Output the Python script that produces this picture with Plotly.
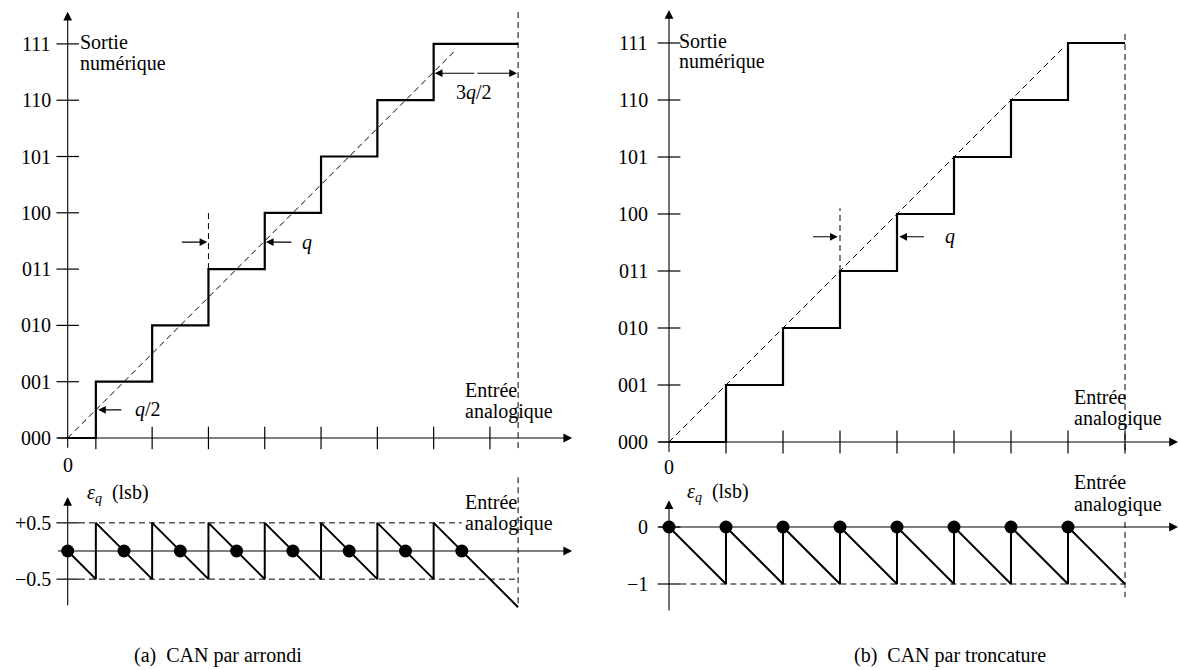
import plotly.graph_objects as go

# ---------------- data (units: q for input, lsb for output/error) ----------------
codes = ["000", "001", "010", "011", "100", "101", "110", "111"]
code_values = [0, 1, 2, 3, 4, 5, 6, 7]
full_scale = 8

# (a) rounding ADC: transitions at half-lsb
round_transitions = [0.5, 1.5, 2.5, 3.5, 4.5, 5.5, 6.5]
round_xticks = [0.5, 1.5, 2.5, 3.5, 4.5, 5.5, 6.5, 7.5]
round_err_ticks = [0.5, -0.5]
round_err_labels = ["+0.5", "\u22120.5"]

# (b) truncation ADC: transitions at integer lsb
trunc_transitions = [1, 2, 3, 4, 5, 6, 7]
trunc_xticks = [1, 2, 3, 4, 5, 6, 7, 8]
trunc_err_ticks = [0, -1]
trunc_err_labels = ["0", "\u22121"]

ideal_end = 6.9  # end of dashed ideal line

captions = ["(a)  CAN par arrondi", "(b)  CAN par troncature"]

FONT = "Liberation Serif, Times New Roman, DejaVu Serif, serif"
FS = 20
BLACK = "black"

W, H = 1180, 670


def staircase(transitions, end):
    xs, ys = [0], [0]
    for i, t in enumerate(transitions):
        xs += [t, t]
        ys += [code_values[i], code_values[i + 1]]
    xs.append(end)
    ys.append(code_values[len(transitions)])
    return xs, ys


def error_curve(transitions, end):
    bounds = [0] + list(transitions) + [end]
    xs, ys = [], []
    for i in range(len(bounds) - 1):
        a, b = bounds[i], bounds[i + 1]
        c = code_values[i]
        xs += [a, b]
        ys += [c - a, c - b]
    return xs, ys


fig = go.Figure()


# pixel layout helpers -> axis ranges (positions only)
def xrange_for(px0, px1, origin, q):
    return [(px0 - origin) / q, (px1 - origin) / q]


def yrange_for(py0, py1, origin, q):
    return [(origin - py1) / q, (origin - py0) / q]


layout_axes = {
    "xaxis": dict(range=xrange_for(0, 590, 67.7, 56.3), domain=[0, 590 / W], anchor="y"),
    "yaxis": dict(range=yrange_for(0, 470, 438, 56.3), domain=[1 - 470 / H, 1], anchor="x"),
    "xaxis2": dict(range=xrange_for(0, 590, 67.7, 56.3), domain=[0, 590 / W], anchor="y2"),
    "yaxis2": dict(range=yrange_for(470, 630, 551, 56.3), domain=[1 - 630 / H, 1 - 470 / H], anchor="x2"),
    "xaxis3": dict(range=xrange_for(590, 1180, 669, 57), domain=[590 / W, 1], anchor="y3"),
    "yaxis3": dict(range=yrange_for(0, 470, 442, 57), domain=[1 - 470 / H, 1], anchor="x3"),
    "xaxis4": dict(range=xrange_for(590, 1180, 669, 57), domain=[590 / W, 1], anchor="y4"),
    "yaxis4": dict(range=yrange_for(470, 630, 527, 57), domain=[1 - 630 / H, 1 - 470 / H], anchor="x4"),
}
for k, v in layout_axes.items():
    v.update(visible=False, fixedrange=True)

shapes = []
annotations = []
DASH = "6px,4px"


def seg(x0, y0, x1, y1, xr, yr, dash=None, width=1.2):
    line = dict(color=BLACK, width=width)
    if dash:
        line["dash"] = dash
    shapes.append(dict(type="line", x0=x0, y0=y0, x1=x1, y1=y1, xref=xr, yref=yr, line=line, layer="above"))


def arrow(x, y, tx, ty, xr, yr, width=1.1, size=1.6):
    annotations.append(dict(x=x, y=y, ax=tx, ay=ty, xref=xr, yref=yr, axref=xr, ayref=yr,
                            text="", showarrow=True, arrowhead=2, arrowsize=size,
                            arrowwidth=width, arrowcolor=BLACK, standoff=0, startstandoff=0))


def label(x, y, text, xr, yr, xanchor="center", yanchor="middle", size=FS):
    annotations.append(dict(x=x, y=y, xref=xr, yref=yr, text=text, showarrow=False,
                            xanchor=xanchor, yanchor=yanchor,
                            font=dict(family=FONT, size=size, color=BLACK)))


def top_panel(xr, yr, transitions, xticks, ylab_x, zero_y, sortie_x, sortie_y, entree_x, entree_y,
              axis_top, axis_right, vline):
    arrow(0, axis_top, 0, -0.2, xr, yr)
    arrow(axis_right, 0, -0.2, 0, xr, yr)
    for v, c in zip(code_values, codes):
        seg(-0.2, v, 0.2, v, xr, yr)
        label(ylab_x, v, c, xr, yr, xanchor="right")
    for t in xticks:
        seg(t, -0.2, t, 0.2, xr, yr)
    label(0, zero_y, "0", xr, yr)
    fig.add_trace(go.Scatter(x=[0, ideal_end], y=[0, ideal_end], mode="lines", xaxis=xr, yaxis=yr,
                             line=dict(color=BLACK, width=1, dash=DASH), hoverinfo="skip", showlegend=False))
    xs, ys = staircase(transitions, full_scale)
    fig.add_trace(go.Scatter(x=xs, y=ys, mode="lines", xaxis=xr, yaxis=yr,
                             line=dict(color=BLACK, width=2.2), hoverinfo="skip", showlegend=False))
    seg(full_scale, vline[0], full_scale, vline[1], xr, yr, dash=DASH, width=1)
    label(sortie_x, sortie_y[0], "Sortie", xr, yr, xanchor="left")
    label(sortie_x, sortie_y[1], "numérique", xr, yr, xanchor="left")
    label(entree_x, entree_y[0], "Entrée", xr, yr, xanchor="left")
    label(entree_x, entree_y[1], "analogique", xr, yr, xanchor="left")


def bottom_panel(xr, yr, transitions, ticks, tick_labels, ylab_x, axis_top, axis_bottom, axis_right,
                 dashed_lines, vline, eps_pos, entree_x, entree_y):
    arrow(0, axis_top, 0, axis_bottom, xr, yr)
    arrow(axis_right, 0, -0.2, 0, xr, yr)
    for t, lab in zip(ticks, tick_labels):
        seg(-0.2, t, 0.2, t, xr, yr)
        label(ylab_x, t, lab, xr, yr, xanchor="right")
    for (yv, x0, x1) in dashed_lines:
        seg(x0, yv, x1, yv, xr, yr, dash=DASH, width=1)
    seg(full_scale, vline[0], full_scale, vline[1], xr, yr, dash=DASH, width=1)
    xs, ys = error_curve(transitions, full_scale)
    fig.add_trace(go.Scatter(x=xs, y=ys, mode="lines", xaxis=xr, yaxis=yr,
                             line=dict(color=BLACK, width=2), hoverinfo="skip", showlegend=False))
    fig.add_trace(go.Scatter(x=code_values, y=[0] * len(code_values), mode="markers", xaxis=xr, yaxis=yr,
                             marker=dict(color=BLACK, size=13), hoverinfo="skip", showlegend=False))
    label(eps_pos[0], eps_pos[1], "<i>ε</i><sub><i>q</i></sub>  (lsb)", xr, yr, xanchor="left")
    label(entree_x, entree_y[0], "Entrée", xr, yr, xanchor="left")
    label(entree_x, entree_y[1], "analogique", xr, yr, xanchor="left")


# ---------------- (a) rounding ----------------
top_panel("x", "y", round_transitions, round_xticks, ylab_x=-0.26, zero_y=-0.48,
          sortie_x=0.18, sortie_y=(7.03, 6.66), entree_x=7.02, entree_y=(0.85, 0.47),
          axis_top=7.57, axis_right=8.96, vline=(-0.18, 7.6))
arrow(0.54, 0.5, 0.98, 0.5, "x", "y", width=1.1, size=1.4)
label(1.42, 0.5, "<i>q</i>/2", "x", "y")
seg(2.5, 3.0, 2.5, 4.0, "x", "y", dash=DASH, width=1)
arrow(2.48, 3.48, 2.0, 3.48, "x", "y", width=1.1, size=1.4)
arrow(3.52, 3.48, 4.0, 3.48, "x", "y", width=1.1, size=1.4)
label(4.25, 3.48, "<i>q</i>", "x", "y")
arrow(6.52, 6.48, 7.25, 6.48, "x", "y", width=1.1, size=1.4)
arrow(7.98, 6.48, 7.25, 6.48, "x", "y", width=1.1, size=1.4)
label(7.22, 6.14, "3<i>q</i>/2", "x", "y")

bottom_panel("x2", "y2", round_transitions, round_err_ticks, round_err_labels, ylab_x=-0.26,
             axis_top=0.96, axis_bottom=-0.99, axis_right=8.96,
             dashed_lines=[(0.5, 0.2, 7.0), (-0.5, 0.2, 8.0)], vline=(1.31, -0.99),
             eps_pos=(0.31, 1.03), entree_x=7.02, entree_y=(0.87, 0.48))

# ---------------- (b) truncation ----------------
top_panel("x3", "y3", trunc_transitions, trunc_xticks, ylab_x=-0.33, zero_y=-0.44,
          sortie_x=0.14, sortie_y=(7.04, 6.67), entree_x=7.07, entree_y=(0.79, 0.41),
          axis_top=7.58, axis_right=8.93, vline=(-0.14, 7.19))
seg(3.0, 3.0, 3.0, 4.1, "x3", "y3", dash=DASH, width=1)
arrow(2.96, 3.6, 2.5, 3.6, "x3", "y3", width=1.1, size=1.4)
arrow(4.04, 3.6, 4.5, 3.6, "x3", "y3", width=1.1, size=1.4)
label(4.93, 3.6, "<i>q</i>", "x3", "y3")

bottom_panel("x4", "y4", trunc_transitions, trunc_err_ticks, trunc_err_labels, ylab_x=-0.33,
             axis_top=0.47, axis_bottom=-1.49, axis_right=8.93,
             dashed_lines=[(-1, 0.2, 8.0)], vline=(0.09, -1.23),
             eps_pos=(0.28, 0.6), entree_x=7.07, entree_y=(0.79, 0.39))

# captions
for cx, cap in zip([218 / W, 950 / W], captions):
    annotations.append(dict(x=cx, y=1 - 655 / H, xref="paper", yref="paper", text=cap, showarrow=False,
                            xanchor="center", yanchor="middle",
                            font=dict(family=FONT, size=FS, color=BLACK)))

fig.update_layout(width=W, height=H, autosize=False, margin=dict(l=0, r=0, t=0, b=0),
                  paper_bgcolor="white", plot_bgcolor="white", showlegend=False,
                  font=dict(family=FONT, size=FS, color=BLACK),
                  shapes=shapes, annotations=annotations, **layout_axes)

fig.write_html("out.html", config={"displayModeBar": False},
               post_script="document.body.style.margin='0';document.body.style.overflow='hidden';")
